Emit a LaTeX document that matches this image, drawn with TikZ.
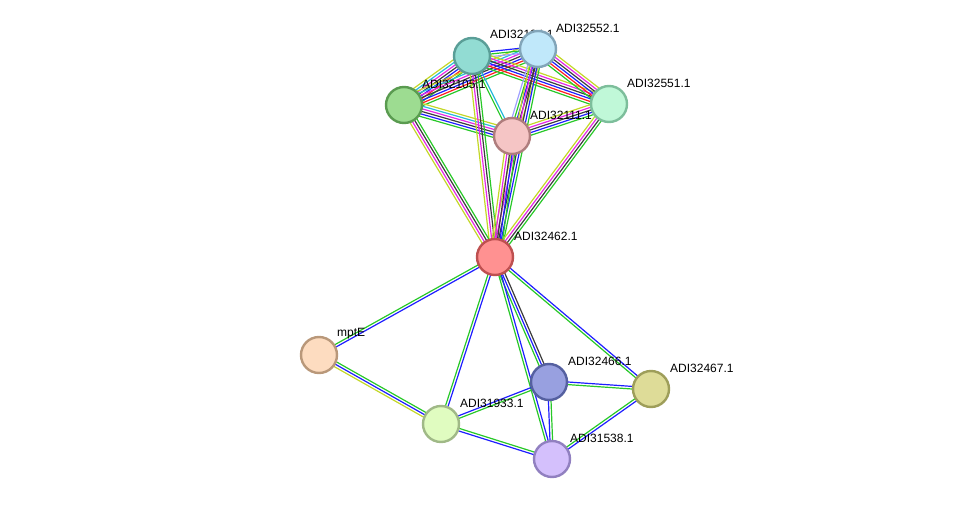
\documentclass[tikz,border=0pt]{standalone}
\usepackage{fontspec}
\setmainfont{Liberation Sans}
\usetikzlibrary{calc}
\pgfdeclarelayer{background}
\pgfsetlayers{background,main}
\definecolor{eNb}{RGB}{40,200,40}
\definecolor{eFu}{RGB}{255,30,30}
\definecolor{eCo}{RGB}{30,30,255}
\definecolor{eCx}{RGB}{60,60,60}
\definecolor{eEx}{RGB}{230,40,230}
\definecolor{eDb}{RGB}{40,185,220}
\definecolor{eTm}{RGB}{195,215,40}
\definecolor{eHo}{RGB}{160,160,255}
\definecolor{fA}{RGB}{255,145,145}\definecolor{bA}{RGB}{190,80,80}
\definecolor{fB}{RGB}{146,220,211}\definecolor{bB}{RGB}{90,158,151}
\definecolor{fC}{RGB}{192,232,250}\definecolor{bC}{RGB}{130,165,185}
\definecolor{fD}{RGB}{157,220,145}\definecolor{bD}{RGB}{90,155,80}
\definecolor{fE}{RGB}{192,248,216}\definecolor{bE}{RGB}{125,190,155}
\definecolor{fF}{RGB}{245,197,197}\definecolor{bF}{RGB}{175,125,125}
\definecolor{fG}{RGB}{253,220,192}\definecolor{bG}{RGB}{185,152,122}
\definecolor{fH}{RGB}{224,252,192}\definecolor{bH}{RGB}{160,185,135}
\definecolor{fI}{RGB}{152,160,224}\definecolor{bI}{RGB}{85,96,160}
\definecolor{fJ}{RGB}{222,220,152}\definecolor{bJ}{RGB}{158,158,90}
\definecolor{fK}{RGB}{212,192,252}\definecolor{bK}{RGB}{145,128,192}
\newcommand\sedge[4]{%
  \foreach \c [count=\i] in {#4}{%
    \pgfmathsetmacro\off{(\i-(#1+1)/2)*2.6}%
    \draw[\c, line width=1.2pt] ($(#2)!\off pt!90:(#3)$) -- ($(#3)!\off pt!-90:(#2)$);
  }}
\tikzset{
  prot/.style={circle, line width=2.4pt, minimum size=36pt, inner sep=0pt},
  lbl/.style={anchor=west, font=\fontsize{12}{14}\selectfont, inner sep=0pt}
}
\begin{document}
\begin{tikzpicture}[x=1pt,y=-1pt]
\useasboundingbox (0,0) rectangle (975,505);
% labels
\node[lbl] (lB) at (490,34) {ADI32104.1};
\node[lbl] (lC) at (556,28) {ADI32552.1};
\node[lbl] (lD) at (422,84) {ADI32105.1};
\node[lbl] (lE) at (627,83) {ADI32551.1};
\node[lbl] (lF) at (530,115) {ADI32111.1};
\node[lbl] (lA) at (514,236) {ADI32462.1};
\node[lbl] (lG) at (337,334) {mptE};
\node[lbl] (lH) at (460,403) {ADI31933.1};
\node[lbl] (lI) at (568,361) {ADI32466.1};
\node[lbl] (lJ) at (670,368) {ADI32467.1};
\node[lbl] (lK) at (570,438) {ADI31538.1};
% nodes
\node[prot, fill=fB, draw=bB] (B) at (472,56) {};
\node[prot, fill=fC, draw=bC] (C) at (538,49) {};
\node[prot, fill=fD, draw=bD] (D) at (404,105) {};
\node[prot, fill=fE, draw=bE] (E) at (609,104) {};
\node[prot, fill=fF, draw=bF] (F) at (512,136) {};
\node[prot, fill=fA, draw=bA] (A) at (495,257) {};
\node[prot, fill=fG, draw=bG] (G) at (319,355) {};
\node[prot, fill=fH, draw=bH] (H) at (441,424) {};
\node[prot, fill=fI, draw=bI] (I) at (549,382) {};
\node[prot, fill=fJ, draw=bJ] (J) at (651,389) {};
\node[prot, fill=fK, draw=bK] (K) at (552,459) {};
\begin{pgfonlayer}{background}
% top cluster
\sedge{7}{D}{B}{eNb,eFu,eCo,eCx,eEx,eDb,eTm}
\sedge{7}{D}{C}{eNb,eFu,eCo,eCx,eEx,eDb,eTm}
\sedge{6}{D}{F}{eNb,eCo,eCx,eEx,eDb,eTm}
\sedge{3}{B}{C}{eHo,eNb,eCo}
\sedge{2}{B}{F}{eNb,eDb}
\sedge{6}{B}{E}{eNb,eFu,eCo,eCx,eEx,eTm}
\sedge{6}{C}{E}{eNb,eFu,eCo,eCx,eEx,eTm}
\sedge{5}{C}{F}{eHo,eNb,eCo,eCx,eTm}
\sedge{5}{F}{E}{eNb,eCo,eCx,eEx,eTm}
% center
\sedge{4}{A}{B}{eNb,eCx,eEx,eTm}
\sedge{5}{A}{C}{eNb,eCo,eCx,eEx,eTm}
\sedge{4}{A}{D}{eNb,eCx,eEx,eTm}
\sedge{4}{A}{E}{eNb,eCx,eEx,eTm}
\sedge{5}{A}{F}{eNb,eCo,eCx,eEx,eTm}
\sedge{2}{A}{G}{eNb,eCo}
\sedge{2}{A}{H}{eNb,eCo}
\sedge{3}{A}{I}{eNb,eCo,eCx}
\sedge{2}{A}{J}{eNb,eCo}
\sedge{2}{A}{K}{eNb,eCo}
% bottom
\sedge{3}{G}{H}{eTm,eCo,eNb}
\sedge{2}{H}{I}{eNb,eCo}
\sedge{2}{H}{K}{eCo,eNb}
\sedge{2}{I}{J}{eNb,eCo}
\sedge{2}{I}{K}{eCo,eNb}
\sedge{2}{J}{K}{eNb,eCo}
\end{pgfonlayer}
\end{tikzpicture}
\end{document}
